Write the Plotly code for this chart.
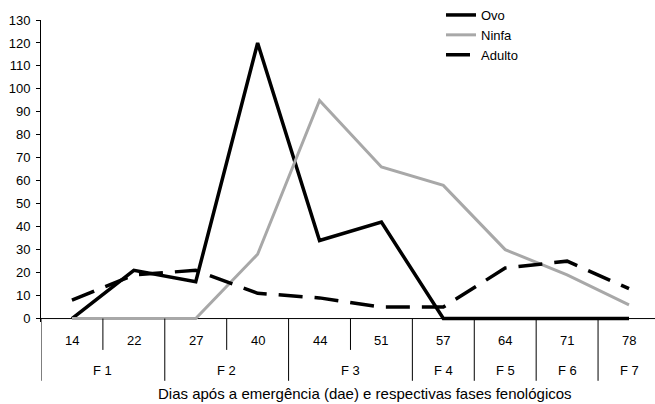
import plotly.graph_objects as go

dias = ["14", "22", "27", "40", "44", "51", "57", "64", "71", "78"]
fases = ["F 1", "F 2", "F 3", "F 4", "F 5", "F 6", "F 7"]
fase_inicio = [0, 2, 4, 6, 7, 8, 9]   # index of first day in each phase
fase_fim = [1, 3, 5, 6, 7, 8, 9]      # index of last day in each phase

ovo = [0, 21, 16, 120, 34, 42, 0, 0, 0, 0]
ninfa = [0, 0, 0, 28, 95, 66, 58, 30, 19, 6]
adulto = [8, 19, 21, 11, 9, 5, 5, 22, 25, 13]

yticks = list(range(0, 131, 10))
titulo_x = "Dias após a emergência (dae) e respectivas fases fenológicos"

FONT = "Liberation Sans, Arial, Helvetica, sans-serif"
W, H = 655, 404
ML, MR, MT, MB = 41, 0, 19, 82
YMIN, YMAX = -1.5, 130
XMIN, XMAX = -0.5, 9.42

plot_h = H - MT - MB
plot_w = W - ML - MR


def py(px):
    """pixel row -> paper y"""
    return (H - MB - px) / plot_h


def px_(px):
    """pixel column -> paper x"""
    return (px - ML) / plot_w


idx = list(range(len(dias)))

fig = go.Figure()
fig.add_trace(go.Scatter(x=idx, y=ovo, name="Ovo", mode="lines",
                         line=dict(color="black", width=3.5)))
fig.add_trace(go.Scatter(x=idx, y=ninfa, name="Ninfa", mode="lines",
                         line=dict(color="#a8a8a8", width=3)))
fig.add_trace(go.Scatter(x=idx, y=adulto, name="Adulto", mode="lines",
                         line=dict(color="black", width=3.5, dash="24px,12px")))

shapes = []
y_zero_paper = (0 - YMIN) / (YMAX - YMIN)
# x axis baseline
shapes.append(dict(type="line", xref="paper", yref="y", x0=0, x1=1, y0=0, y1=0,
                   line=dict(color="black", width=1), layer="below"))
# dividers
group_bounds = set([fase_inicio[0] - 0.5] + [f + 0.5 for f in fase_fim])
for i in range(len(dias) + 1):
    b = i - 0.5
    long_ = b in group_bounds
    shapes.append(dict(type="line", xref="x", yref="paper", x0=b, x1=b,
                       y0=y_zero_paper, y1=py(381) if long_ else py(350),
                       line=dict(color="black", width=1)))

annotations = []
for i, d in enumerate(dias):
    annotations.append(dict(x=i, xref="x", y=py(341), yref="paper", text=d,
                            showarrow=False, yanchor="middle",
                            font=dict(family=FONT, size=13, color="black")))
for f, a, b in zip(fases, fase_inicio, fase_fim):
    annotations.append(dict(x=(a + b) / 2, xref="x", y=py(371), yref="paper", text=f,
                            showarrow=False, yanchor="middle",
                            font=dict(family=FONT, size=13, color="black")))
annotations.append(dict(x=px_(365), xref="paper", y=py(394), yref="paper",
                        text=titulo_x, showarrow=False, yanchor="middle",
                        font=dict(family=FONT, size=15, color="black")))

fig.update_layout(
    width=W, height=H,
    margin=dict(l=ML, r=MR, t=MT, b=MB, pad=0),
    paper_bgcolor="white", plot_bgcolor="white",
    font=dict(family=FONT, size=13, color="black"),
    xaxis=dict(range=[XMIN, XMAX], showgrid=False, zeroline=False, showline=False,
               showticklabels=False, ticks=""),
    yaxis=dict(range=[YMIN, YMAX], tickvals=yticks, showgrid=False, zeroline=False,
               showline=True, linecolor="black", linewidth=1,
               ticks="outside", ticklen=4, tickcolor="black",
               tickfont=dict(family=FONT, size=13, color="black"),
               ticklabelstandoff=3),
    legend=dict(x=px_(441), y=py(-1), xanchor="left", yanchor="top",
                bgcolor="rgba(0,0,0,0)", font=dict(family=FONT, size=13, color="black"),
                tracegroupgap=0, itemwidth=30),
    showlegend=True,
    shapes=shapes,
    annotations=annotations,
)

fig.write_html("out.html", config={"displayModeBar": False},
               post_script="document.body.style.margin='0';")
